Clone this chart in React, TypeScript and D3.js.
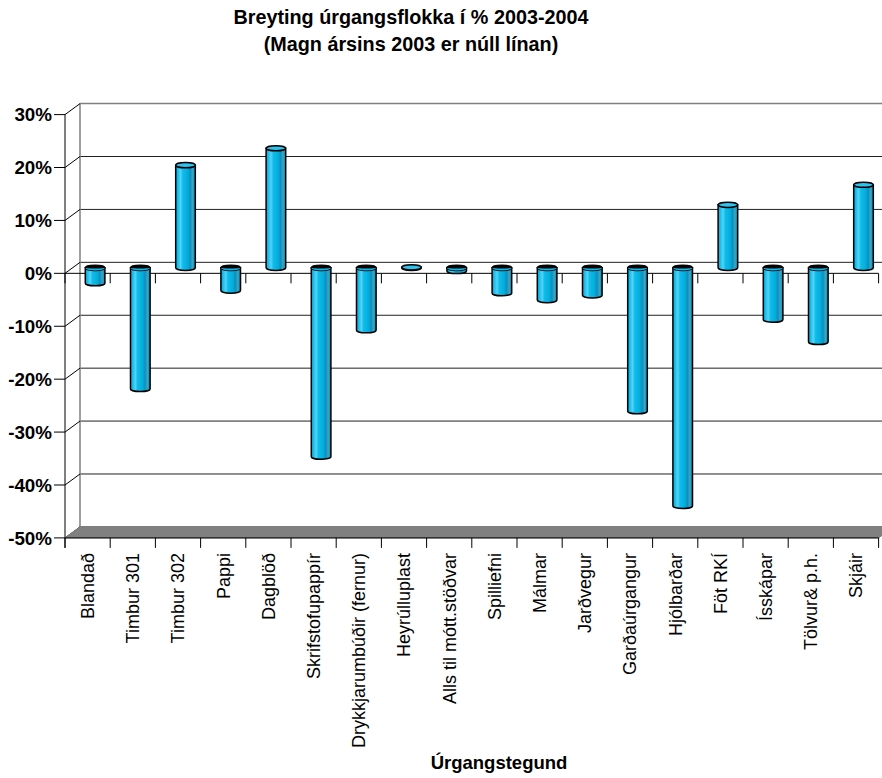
import React from "react";
import * as d3 from "d3";

const categories = [
  "Blandað", "Timbur 301", "Timbur 302", "Pappi", "Dagblöð", "Skrifstofupappír",
  "Drykkjarumbúðir (fernur)", "Heyrúlluplast", "Alls til mótt.stöðvar", "Spilliefni",
  "Málmar", "Jarðvegur", "Garðaúrgangur", "Hjólbarðar", "Föt RKÍ", "Ísskápar",
  "Tölvur& p.h.", "Skjáir",
];
const values = [
  -2.9, -22.9, 19.4, -4.3, 22.6, -35.7, -11.8, 0.1, -0.6, -4.8,
  -6.1, -5.2, -27.1, -45.0, 11.9, -9.8, -14.0, 15.7,
];
const yTicks = [30, 20, 10, 0, -10, -20, -30, -40, -50];
const title1 = "Breyting úrgangsflokka í % 2003-2004";
const title2 = "(Magn ársins 2003 er núll línan)";
const xTitle = "Úrgangstegund";

const FONT = "'Liberation Sans', Arial, Helvetica, sans-serif";

export default function App() {
  const W = 882, H = 778;
  const x0 = 65, x1 = 878.6;
  const DX = 15, DY = -11;
  const y = d3.scaleLinear().domain([-50, 30]).range([537.9, 114.6]);
  const x = d3.scaleBand<string>().domain(categories).range([x0, x1]).paddingInner(0).paddingOuter(0);
  const bw = x.bandwidth();
  const rx = 9.8, ry = 2.6;
  const fmt = (v: number) => `${v}%`;

  const bars = categories.map((c, i) => {
    const v = values[i];
    const cx = (x(c) as number) + bw / 2 + DX / 2;
    const cy0 = y(0) + DY / 2;
    const cyV = y(v) + DY / 2;
    const L = cx - rx, R = cx + rx;
    if (v >= 0) {
      const body = `M${L},${cyV} L${L},${cy0} A${rx},${ry} 0 0 0 ${R},${cy0} L${R},${cyV} Z`;
      return (
        <g key={c}>
          <path d={body} fill="url(#barGrad)" stroke="#000" strokeWidth={1.5} />
          <ellipse cx={cx} cy={cyV} rx={rx} ry={ry} fill="#2fc2ec" stroke="#000" strokeWidth={1.5} />
        </g>
      );
    } else {
      const body = `M${L},${cy0} L${L},${cyV} A${rx},${ry} 0 0 0 ${R},${cyV} L${R},${cy0} Z`;
      const cres = `M${L},${cy0} A${rx},${ry} 0 0 0 ${R},${cy0} A${rx},${ry * 0.25} 0 0 1 ${L},${cy0} Z`;
      return (
        <g key={c}>
          <path d={body} fill="url(#barGrad)" stroke="#000" strokeWidth={1.5} />
          <ellipse cx={cx} cy={cy0} rx={rx} ry={ry} fill="#050505" stroke="#000" strokeWidth={1.5} />
          <path d={cres} fill="#18b4e2" />
        </g>
      );
    }
  });

  const boundaries = d3.range(categories.length + 1).map((i) => x0 + i * bw);

  return (
    <svg width={W} height={H} viewBox={`0 0 ${W} ${H}`}
      style={{ position: "absolute", left: 0, top: 0, background: "#fff" }}
      fontFamily={FONT}>
      <defs>
        <linearGradient id="barGrad" x1="0" x2="1" y1="0" y2="0">
          <stop offset="0" stopColor="#0aa3d2" />
          <stop offset="0.1" stopColor="#12bdeb" />
          <stop offset="0.25" stopColor="#55d3f5" />
          <stop offset="0.36" stopColor="#10bcea" />
          <stop offset="0.62" stopColor="#03acdc" />
          <stop offset="0.74" stopColor="#0c8fbb" />
          <stop offset="0.86" stopColor="#3aa5c5" />
          <stop offset="1" stopColor="#1a84ab" />
        </linearGradient>
      </defs>

      {/* titles */}
      <text x={411} y={24} textAnchor="middle" fontSize={19.8} fontWeight="bold">{title1}</text>
      <text x={411} y={51} textAnchor="middle" fontSize={19.8} fontWeight="bold">{title2}</text>

      {/* back wall gridlines */}
      {yTicks.map((t) => (
        <line key={"g" + t} x1={x0 + DX} x2={x1 + DX} y1={y(t) + DY} y2={y(t) + DY}
          stroke={t === 30 ? "#808080" : "#222"} strokeWidth={t === 30 ? 1.5 : 1} />
      ))}
      {/* left wall back edge */}
      <line x1={x0 + DX} x2={x0 + DX} y1={y(30) + DY} y2={y(-50) + DY} stroke="#808080" strokeWidth={1.5} />
      {/* left wall diagonals */}
      {yTicks.map((t) => (
        <line key={"d" + t} x1={x0} x2={x0 + DX} y1={y(t)} y2={y(t) + DY} stroke="#000" strokeWidth={1} />
      ))}
      {/* floor */}
      <path d={`M${x0},${y(-50)} L${x0 + DX},${y(-50) + DY} L${x1 + DX},${y(-50) + DY} L${x1},${y(-50)} Z`}
        fill="#808080" stroke="#808080" />
      <line x1={x0} x2={x1} y1={y(-50)} y2={y(-50)} stroke="#000" strokeWidth={1} />
      {boundaries.map((b, i) => (
        <line key={"bt" + i} x1={b} x2={b} y1={y(-50)} y2={y(-50) + 10} stroke="#000" strokeWidth={1} />
      ))}

      {/* front zero line with ticks */}
      <line x1={x0} x2={x1} y1={y(0)} y2={y(0)} stroke="#000" strokeWidth={1} />
      {boundaries.map((b, i) => (
        <line key={"zt" + i} x1={b} x2={b} y1={y(0)} y2={y(0) + 10} stroke="#000" strokeWidth={1} />
      ))}

      {/* value axis */}
      <line x1={x0} x2={x0} y1={y(30)} y2={y(-50) + 10} stroke="#000" strokeWidth={1} />
      {yTicks.map((t) => (
        <g key={"yt" + t}>
          <line x1={x0 - 11} x2={x0} y1={y(t)} y2={y(t)} stroke="#000" strokeWidth={1} />
          <text x={52} y={y(t)} dy="0.36em" textAnchor="end" fontSize={18.8} fontWeight="bold">{fmt(t)}</text>
        </g>
      ))}

      {/* bars */}
      {bars}

      {/* category labels */}
      {categories.map((c) => {
        const cx = (x(c) as number) + bw / 2;
        return (
          <text key={"cl" + c} transform={`translate(${cx},553) rotate(-90)`} dy="0.35em"
            textAnchor="end" fontSize={18}>{c}</text>
        );
      })}

      <text x={499} y={769} textAnchor="middle" fontSize={18.5} fontWeight="bold">{xTitle}</text>
    </svg>
  );
}
